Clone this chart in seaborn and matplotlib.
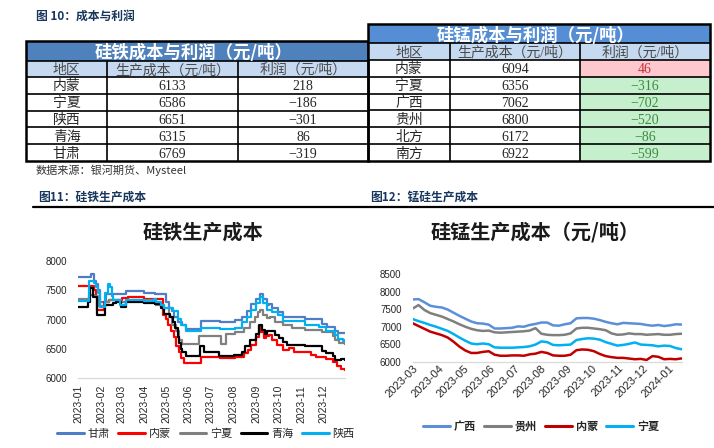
import matplotlib
matplotlib.use('Agg')
import matplotlib.pyplot as plt
import matplotlib.dates as mdates
import matplotlib.transforms as mtransforms
from matplotlib.font_manager import fontManager
from matplotlib.lines import Line2D
from matplotlib.patches import Rectangle
import numpy as np
import pandas as pd
import seaborn as sns

# ---------------- 表格数据 ----------------
table_cols = ['地区', '生产成本（元/吨）', '利润（元/吨）']

sife_regions = ['内蒙', '宁夏', '陕西', '青海', '甘肃']
sife_cost = [6133, 6586, 6651, 6315, 6769]
sife_profit = [218, -186, -301, 86, -319]

simn_regions = ['内蒙', '宁夏', '广西', '贵州', '北方', '南方']
simn_cost = [6094, 6356, 7062, 6800, 6172, 6922]
simn_profit = [46, -316, -702, -520, -86, -599]

# ---------------- 硅铁生产成本（阶梯线，2023年） ----------------
gansu_dates = ['01-01', '01-18', '01-22', '01-25', '01-28', '01-31', '02-08', '03-07', '03-31', '04-16',
               '05-01', '05-05', '05-09', '05-12', '05-17', '05-22', '05-28', '06-18', '07-13', '08-03',
               '08-12', '08-19', '08-25', '09-01', '09-06', '09-10', '09-15', '09-18', '09-23', '09-30',
               '10-07', '11-07', '11-30', '12-07', '12-18', '12-22', '12-31']
gansu_cost = [7720, 7770, 7650, 7600, 7500, 7300, 7440, 7480, 7450, 7430,
              7300, 7200, 7150, 7050, 6950, 6900, 6840, 6970, 6950, 6990,
              7050, 7150, 7260, 7350, 7430, 7350, 7250, 7270, 7200, 7130,
              7050, 7000, 6920, 6880, 6810, 6769, 6769]

neimeng_dates = ['01-01', '01-23', '01-25', '01-27', '02-05', '02-12', '03-02', '03-10', '03-31', '04-27',
                 '05-01', '05-04', '05-08', '05-12', '05-15', '05-18', '05-21', '05-25', '06-18', '07-13',
                 '08-03', '08-15', '08-21', '08-25', '08-31', '09-05', '09-08', '09-11', '09-14', '09-18',
                 '09-23', '09-29', '10-07', '10-15', '10-22', '11-15', '11-21', '12-05', '12-14', '12-20',
                 '12-26', '12-31']
neimeng_cost = [7580, 7500, 7400, 7160, 7300, 7340, 7360, 7380, 7350, 7080,
                7000, 6900, 6800, 6700, 6550, 6450, 6350, 6260, 6365, 6336,
                6365, 6420, 6480, 6560, 6700, 6866, 6780, 6680, 6720, 6735,
                6650, 6560, 6480, 6510, 6450, 6400, 6365, 6330, 6280, 6200,
                6150, 6133]

ningxia_dates = ['01-01', '01-15', '01-22', '01-28', '02-07', '02-12', '02-28', '03-07', '04-12', '04-17',
                 '04-28', '05-05', '05-09', '05-14', '05-18', '05-22', '06-15', '07-15', '07-21', '08-03',
                 '08-15', '08-24', '08-30', '09-03', '09-06', '09-10', '09-15', '09-20', '09-27', '10-07',
                 '10-20', '11-07', '11-30', '12-14', '12-18', '12-23', '12-31']
ningxia_cost = [7350, 7420, 7400, 7230, 7300, 7340, 7300, 7330, 7300, 7250,
                7200, 7050, 6900, 6800, 6650, 6580, 6720, 6580, 6750, 6790,
                6850, 6950, 7050, 7120, 7170, 7080, 7020, 7050, 6960, 6900,
                6860, 6820, 6780, 6710, 6650, 6590, 6586]

qinghai_dates = ['01-01', '01-14', '01-17', '01-21', '01-27', '02-06', '02-17', '02-22', '02-28', '03-07',
                 '04-01', '04-15', '04-24', '04-28', '05-06', '05-10', '05-13', '05-17', '05-19', '05-21',
                 '05-23', '05-28', '06-16', '06-22', '07-12', '08-02', '08-12', '08-17', '08-23', '08-31',
                 '09-05', '09-09', '09-13', '09-16', '09-26', '10-02', '10-07', '10-13', '11-07', '11-30',
                 '12-05', '12-14', '12-18', '12-25', '12-31']
qinghai_cost = [7220, 7300, 7530, 7380, 7070, 7250, 7280, 7300, 7220, 7300,
                7290, 7270, 7200, 7100, 7050, 6950, 6850, 6700, 6600, 6500,
                6450, 6370, 6540, 6440, 6370, 6390, 6450, 6550, 6650, 6760,
                6900, 6820, 6750, 6800, 6740, 6680, 6620, 6570, 6540, 6470,
                6420, 6380, 6300, 6330, 6315]

shaanxi_dates = ['01-01', '01-15', '01-22', '01-25', '01-28', '01-31', '02-06', '02-10', '02-13', '02-16',
                 '02-18', '02-27', '03-07', '04-01', '04-14', '04-17', '04-24', '04-28', '05-10', '05-17',
                 '05-21', '05-28', '06-18', '07-13', '08-03', '08-12', '08-19', '08-25', '09-01', '09-06',
                 '09-10', '09-15', '09-22', '09-30', '10-07', '11-07', '11-25', '12-05', '12-18', '12-22',
                 '12-28', '12-31']
shaanxi_cost = [7320, 7650, 7620, 7550, 7450, 7220, 7450, 7600, 7560, 7400,
                7330, 7250, 7330, 7320, 7350, 7300, 7250, 7200, 7150, 7000,
                6900, 6800, 6850, 6830, 6860, 6950, 7050, 7170, 7280, 7380,
                7280, 7160, 7130, 7080, 6970, 6910, 6880, 6810, 6740, 6660,
                6640, 6651]

# ---------------- 硅锰生产成本（周度，2023-03 ~ 2024-01） ----------------
simn_dates = pd.date_range('2023-03-01', periods=47, freq='7D')
guangxi_cost = [7780, 7790, 7700, 7600, 7570, 7550, 7490, 7400, 7310, 7230,
                7150, 7100, 7090, 7060, 6950, 6950, 6960, 6970, 7010, 7000,
                7050, 7080, 7120, 7120, 7040, 7030, 7070, 7100, 7240, 7250,
                7250, 7230, 7190, 7140, 7100, 7070, 7110, 7100, 7090, 7080,
                7050, 7030, 7050, 7020, 7040, 7070, 7062]
guizhou_cost = [7520, 7620, 7480, 7390, 7340, 7290, 7220, 7150, 7070, 7000,
                6940, 6900, 6880, 6890, 6840, 6830, 6840, 6850, 6860, 6870,
                6890, 6960, 6800, 6770, 6760, 6760, 6770, 6810, 6950, 6970,
                6970, 6950, 6930, 6900, 6810, 6770, 6780, 6810, 6790, 6790,
                6770, 6780, 6790, 6770, 6770, 6790, 6800]
mn_neimeng_cost = [7100, 7020, 6940, 6860, 6810, 6760, 6690, 6570, 6430, 6320,
                   6250, 6250, 6280, 6300, 6200, 6170, 6170, 6180, 6180, 6170,
                   6210, 6230, 6280, 6250, 6180, 6170, 6170, 6200, 6330, 6350,
                   6340, 6300, 6220, 6160, 6130, 6110, 6110, 6090, 6070, 6080,
                   6050, 6160, 6140, 6070, 6080, 6070, 6094]
mn_ningxia_cost = [7220, 7160, 7110, 7050, 7000, 6940, 6880, 6790, 6690, 6600,
                   6520, 6500, 6520, 6500, 6410, 6400, 6400, 6400, 6410, 6420,
                   6440, 6490, 6580, 6560, 6480, 6470, 6480, 6490, 6620, 6650,
                   6670, 6660, 6630, 6560, 6510, 6460, 6480, 6510, 6550, 6490,
                   6480, 6470, 6440, 6460, 6450, 6390, 6356]

# ---------------- 画布 ----------------
W, H = 714, 448
sns.set_theme(style='white')
plt.rcParams['font.family'] = ['Noto Sans CJK SC', 'DejaVu Sans']
plt.rcParams['axes.unicode_minus'] = False

installed = {f.name for f in fontManager.ttflist}
narrow_font = 'Liberation Sans Narrow' if 'Liberation Sans Narrow' in installed else 'Liberation Sans'
body_font = ['Liberation Serif', 'Noto Sans CJK SC']
navy = '#17365D'

fig = plt.figure(figsize=(W / 100, H / 100), dpi=100)


def px_rect(left, top, right, bottom):
    return [left / W, 1 - bottom / H, (right - left) / W, (bottom - top) / H]


def fmt_num(v):
    # 表格里的负号用长横线
    return str(v).replace('-', '\u2212')


def draw_table(rect, title, title_bg, regions, cost, profit, head_h, sub_h, col_w, mark_profit):
    left, top, right, bottom = rect
    w, h = right - left, bottom - top
    ax = fig.add_axes(px_rect(*rect))
    ax.set_xlim(0, w)
    ax.set_ylim(h, 0)
    ax.axis('off')
    n = len(regions)
    row_h = (h - head_h - sub_h) / n
    xs = np.concatenate([[0], np.cumsum(col_w)])
    xs[-1] = w
    ys = head_h + sub_h + row_h * np.arange(n + 1)

    # 标题行 + 表头
    ax.add_patch(Rectangle((0, 0), w, head_h, facecolor=title_bg, edgecolor='none'))
    ax.text(w / 2 - 3, head_h / 2, title, color='white', fontsize=12.5, fontweight='bold',
            ha='center', va='center_baseline')
    ax.add_patch(Rectangle((0, head_h), w, sub_h, facecolor='#C5D9F1', edgecolor='none'))
    for j, name in enumerate(table_cols):
        ax.text((xs[j] + xs[j + 1]) / 2, head_h + sub_h / 2, name, fontsize=10, color='#4a4a4a',
                ha='center', va='center_baseline', family=body_font)

    for i in range(n):
        cy = (ys[i] + ys[i + 1]) / 2
        p_color = '#262626'
        if mark_profit:
            if profit[i] > 0:
                bg, p_color = '#FFC7CE', '#C8323C'
            else:
                bg, p_color = '#C6EFCE', '#3C8C3C'
            ax.add_patch(Rectangle((xs[2], ys[i]), xs[3] - xs[2], row_h, facecolor=bg, edgecolor='none'))
        cells = [regions[i], str(cost[i]), fmt_num(profit[i])]
        colors = ['#262626', '#262626', p_color]
        for j in range(3):
            ax.text((xs[j] + xs[j + 1]) / 2, cy, cells[j], fontsize=10, color=colors[j],
                    ha='center', va='center_baseline', family=body_font)

    # 框线
    kw = dict(color='black', lw=1.2, clip_on=False, solid_capstyle='butt')
    for y in [head_h] + list(ys[:-1]):
        ax.plot([0, w], [y, y], **kw)
    for x in xs[1:-1]:
        ax.plot([x, x], [head_h, h], **kw)
    ax.add_patch(Rectangle((0, 0), w, h, fill=False, edgecolor='black', lw=1.8, clip_on=False))


fig.text(36 / W, 1 - 16 / H, '图 10：成本与利润', fontsize=8.5, fontweight='bold', color=navy,
         ha='left', va='center')
draw_table((26, 41, 368, 161), '硅铁成本与利润（元/吨）', '#4F81BD', sife_regions, sife_cost, sife_profit,
           head_h=20, sub_h=16, col_w=[81, 131, 130], mark_profit=False)
draw_table((368, 24, 710, 161), '硅锰成本与利润（元/吨）', '#558ED5', simn_regions, simn_cost, simn_profit,
           head_h=19, sub_h=17, col_w=[82, 130, 130], mark_profit=True)
fig.text(36 / W, 1 - 170 / H, '数据来源：银河期货、Mysteel', fontsize=8, color='#333333',
         ha='left', va='center')

# 小标题与分隔线
fig.text(38 / W, 1 - 197 / H, '图11：硅铁生产成本', fontsize=8.5, fontweight='bold', color=navy,
         ha='left', va='center')
fig.text(370 / W, 1 - 197 / H, '图12：锰硅生产成本', fontsize=8.5, fontweight='bold', color=navy,
         ha='left', va='center')
fig.add_artist(Line2D([33 / W, 1.0], [1 - 207 / H, 1 - 207 / H], color='black', lw=1.6,
                      transform=fig.transFigure))


def make_frame(series):
    parts = [pd.DataFrame({'date': pd.to_datetime(d), 'cost': v, 'region': name})
             for name, d, v in series]
    return pd.concat(parts, ignore_index=True)


def style_axis(ax, ymax):
    ax.set_ylim(6000, ymax)
    ax.set_yticks(np.arange(6000, ymax + 1, 500))
    ax.set_xlabel('')
    ax.set_ylabel('')
    for side in ['top', 'right', 'left']:
        ax.spines[side].set_visible(False)
    ax.spines['bottom'].set_color('#D9D9D9')
    ax.spines['bottom'].set_linewidth(0.9)
    ax.tick_params(axis='both', length=0)
    ax.tick_params(axis='y', pad=8, labelsize=7, labelcolor='#262626')
    for t in ax.get_yticklabels():
        t.set_family('Liberation Sans')


def relegend(ax, center_x, center_y, bold, lw):
    old = ax.get_legend()
    handles = old.legend_handles
    labels = [t.get_text() for t in old.get_texts()]
    leg = ax.legend(handles, labels, loc='center', bbox_to_anchor=(center_x / W, 1 - center_y / H),
                    bbox_transform=fig.transFigure, ncol=len(labels), frameon=False,
                    handlelength=2.4, handletextpad=0.35, columnspacing=0.75,
                    prop={'size': 8, 'weight': 'bold' if bold else 'normal'})
    for hd in leg.legend_handles:
        hd.set_linewidth(lw)


# ---------------- 图11：硅铁生产成本 ----------------
ax1 = fig.add_axes(px_rect(78.3, 261, 345, 378))
sife_df = make_frame([
    ('甘肃', ['2023-' + d for d in gansu_dates], gansu_cost),
    ('内蒙', ['2023-' + d for d in neimeng_dates], neimeng_cost),
    ('宁夏', ['2023-' + d for d in ningxia_dates], ningxia_cost),
    ('青海', ['2023-' + d for d in qinghai_dates], qinghai_cost),
    ('陕西', ['2023-' + d for d in shaanxi_dates], shaanxi_cost),
])
sife_palette = {'甘肃': '#4F7EC6', '内蒙': '#FF0000', '宁夏': '#808080', '青海': '#000000', '陕西': '#00B0F0'}
sns.lineplot(data=sife_df, x='date', y='cost', hue='region', palette=sife_palette,
             hue_order=list(sife_palette), estimator=None, drawstyle='steps-post', lw=1.6, ax=ax1)
ax1.set_xlim(pd.Timestamp('2023-01-01'), pd.Timestamp('2023-12-31'))
ax1.xaxis.set_major_locator(mdates.MonthLocator())
ax1.xaxis.set_major_formatter(mdates.DateFormatter('%Y-%m'))
style_axis(ax1, 8000)
ax1.tick_params(axis='x', pad=5, labelsize=7.5, labelcolor='#262626')
for t in ax1.get_xticklabels():
    t.set_rotation(90)
    t.set_family(narrow_font)
relegend(ax1, 206, 434, bold=False, lw=2.2)
fig.text(203 / W, 1 - 232 / H, '硅铁生产成本', fontsize=14.5, fontweight='bold', color='#1a1a1a',
         ha='center', va='center')

# ---------------- 图12：硅锰生产成本 ----------------
ax2 = fig.add_axes(px_rect(412.7, 274.3, 681.7, 361.7))
simn_df = make_frame([
    ('广西', simn_dates, guangxi_cost),
    ('贵州', simn_dates, guizhou_cost),
    ('内蒙', simn_dates, mn_neimeng_cost),
    ('宁夏', simn_dates, mn_ningxia_cost),
])
simn_palette = {'广西': '#5B8FD9', '贵州': '#7F7F7F', '内蒙': '#C00000', '宁夏': '#00B0F0'}
sns.lineplot(data=simn_df, x='date', y='cost', hue='region', palette=simn_palette,
             hue_order=list(simn_palette), estimator=None, lw=1.8, ax=ax2)
ax2.set_xlim(simn_dates[0], simn_dates[-1])
ax2.xaxis.set_major_locator(mdates.MonthLocator())
ax2.xaxis.set_major_formatter(mdates.DateFormatter('%Y-%m'))
style_axis(ax2, 8500)
ax2.tick_params(axis='x', pad=2, labelsize=8, labelcolor='#262626')
shift = mtransforms.ScaledTranslation(4 / 100, -2 / 100, fig.dpi_scale_trans)
for t in ax2.get_xticklabels():
    t.set_rotation(45)
    t.set_ha('right')
    t.set_va('center')
    t.set_rotation_mode('anchor')
    t.set_family('Liberation Sans')
    t.set_transform(t.get_transform() + shift)
relegend(ax2, 541, 426, bold=True, lw=2.2)
fig.text(535 / W, 1 - 232 / H, '硅锰生产成本（元/吨）', fontsize=14.5, fontweight='bold', color='#1a1a1a',
         ha='center', va='center')

fig.savefig('out.png', dpi=100, facecolor='white')
